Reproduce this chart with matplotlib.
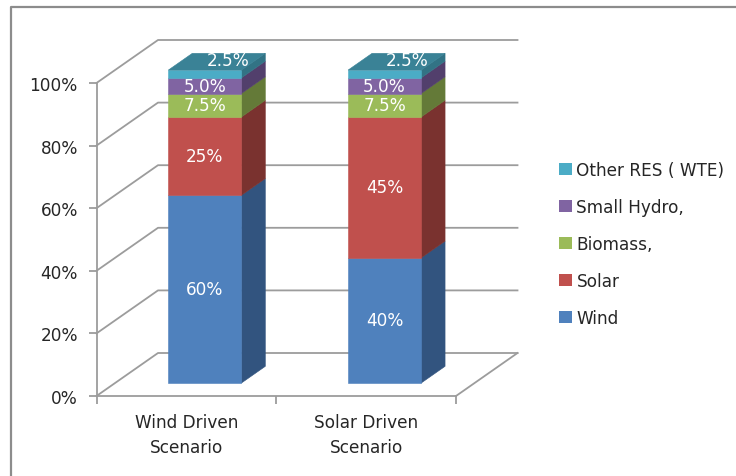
import matplotlib
matplotlib.use("Agg")
import matplotlib.pyplot as plt
from matplotlib.lines import Line2D
from matplotlib.patches import Patch, Polygon

plt.rcParams["font.family"] = ["DejaVu Sans"]

# Chart data
scenarios = ["Wind Driven\nScenario", "Solar Driven\nScenario"]
sources = ["Wind", "Solar", "Biomass,", "Small Hydro,", "Other RES ( WTE)"]
wind_driven = [60, 25, 7.5, 5.0, 2.5]
solar_driven = [40, 45, 7.5, 5.0, 2.5]
value_labels = [["60%", "25%", "7.5%", "5.0%", "2.5%"],
                ["40%", "45%", "7.5%", "5.0%", "2.5%"]]
y_ticks = [0, 20, 40, 60, 80, 100]

front_colors = ["#4F81BD", "#C0504D", "#9BBB59", "#8064A2", "#4BACC6"]
side_colors = ["#32547F", "#7A322F", "#647A38", "#523F6C", "#327385"]
top_color = "#3A8296"
grid_color = "#9C9C9C"
text_color = "#262626"
font_size = 12.2

W, H = 736, 477
fig = plt.figure(figsize=(W / 100, H / 100), dpi=100, facecolor="white")

# Axes span the front plane of the 3-D box
left, right, y0, y100 = 96.5, 456, 397, 84
ax = fig.add_axes([left / W, 1 - y0 / H, (right - left) / W, (y0 - y100) / H])
ax.set_xlim(0, 2)
ax.set_ylim(0, 100)
ax.patch.set_visible(False)

px_x = (right - left) / 2      # pixels per category
px_y = (y0 - y100) / 100       # pixels per percent
depth_x, depth_y = 61.5 / px_x, 43 / px_y  # box depth in axes data units


def project(x, y, t):
    """Shift a point from the front plane back to relative depth t."""
    return x + depth_x * t, y + depth_y * t


# Walls and floor of the box
for v in y_ticks:
    xs, ys = zip(project(0, v, 0), project(0, v, 1), project(2, v, 1))
    ax.plot(xs, ys, color=grid_color, lw=1.3, clip_on=False, zorder=1)
xs, ys = zip(project(2, 0, 1), project(2, 0, 0))
ax.plot(xs, ys, color=grid_color, lw=1.3, clip_on=False, zorder=1)

# Stacked 3-D columns; a hairline edge in the fill colour closes the seams
bar_w = 73 / px_x
t_front, t_back = 0.30, 0.69
for i, values in enumerate([wind_driven, solar_driven]):
    xl = i + 0.5 - bar_w / 2
    xr = xl + bar_w
    base = 0
    for j, v in enumerate(values):
        top = base + v
        front = [project(xl, base, t_front), project(xr, base, t_front),
                 project(xr, top, t_front), project(xl, top, t_front)]
        side = [project(xr, base, t_front), project(xr, base, t_back),
                project(xr, top, t_back), project(xr, top, t_front)]
        ax.add_patch(Polygon(side, closed=True, fc=side_colors[j], ec=side_colors[j],
                             lw=0.4, clip_on=False, zorder=3 + j))
        ax.add_patch(Polygon(front, closed=True, fc=front_colors[j], ec=front_colors[j],
                             lw=0.4, clip_on=False, zorder=3 + j))
        if j == len(values) - 1:
            cap = [project(xl, top, t_front), project(xr, top, t_front),
                   project(xr, top, t_back), project(xl, top, t_back)]
            ax.add_patch(Polygon(cap, closed=True, fc=top_color, ec=top_color,
                                 lw=0.4, clip_on=False, zorder=3 + j))
            lx, ly = project(xl + bar_w / 2, top, 0.51)
            lx += 0.055
            ly += 0.3
        else:
            lx, ly = project(xl + bar_w / 2, base + v / 2, t_front)
        ax.text(lx, ly, value_labels[i][j], color="white", fontsize=font_size,
                ha="center", va="center", zorder=10)
        base = top

# Axis lines, ticks and tick labels
for name in ("top", "right"):
    ax.spines[name].set_visible(False)
for name in ("left", "bottom"):
    ax.spines[name].set_color(grid_color)
    ax.spines[name].set_linewidth(1.3)
ax.set_yticks(y_ticks)
ax.set_yticklabels([f"{v}%" for v in y_ticks])
ax.set_xticks([0, 1, 2])
ax.set_xticklabels([])
ax.set_xticks([0.5, 1.5], labels=scenarios, minor=True)
ax.tick_params(axis="y", color=grid_color, length=6, width=1.3, labelsize=font_size,
               labelcolor=text_color, pad=7.5)
ax.tick_params(axis="x", which="major", color=grid_color, length=6, width=1.3)
ax.tick_params(axis="x", which="minor", length=0, labelsize=font_size,
               labelcolor=text_color, pad=12)
for label in ax.get_xticklabels(minor=True):
    label.set_linespacing(1.55)
ax.set_axisbelow(False)

# Legend, listed top-down from the last stacked series
handles = [Patch(fc=c, ec="none") for c in front_colors][::-1]
fs_px = font_size * 100 / 72
fig.legend(handles, sources[::-1], loc="upper left",
           bbox_to_anchor=(559 / W, 1 - 162 / H), bbox_transform=fig.transFigure,
           frameon=False, fontsize=font_size, labelcolor=text_color,
           borderaxespad=0, borderpad=0,
           handlelength=12.5 / fs_px, handleheight=12.5 / fs_px,
           handletextpad=5 / fs_px, labelspacing=(36 - fs_px) / fs_px)

# Outer frame: only the top and left edges fall inside the canvas
fig.add_artist(Line2D([11 / W, 11 / W, 1], [0, 1 - 8 / H, 1 - 8 / H],
                      transform=fig.transFigure, color="#8C8C8C", lw=1.6))

fig.savefig("out.png", dpi=100, facecolor="white")
